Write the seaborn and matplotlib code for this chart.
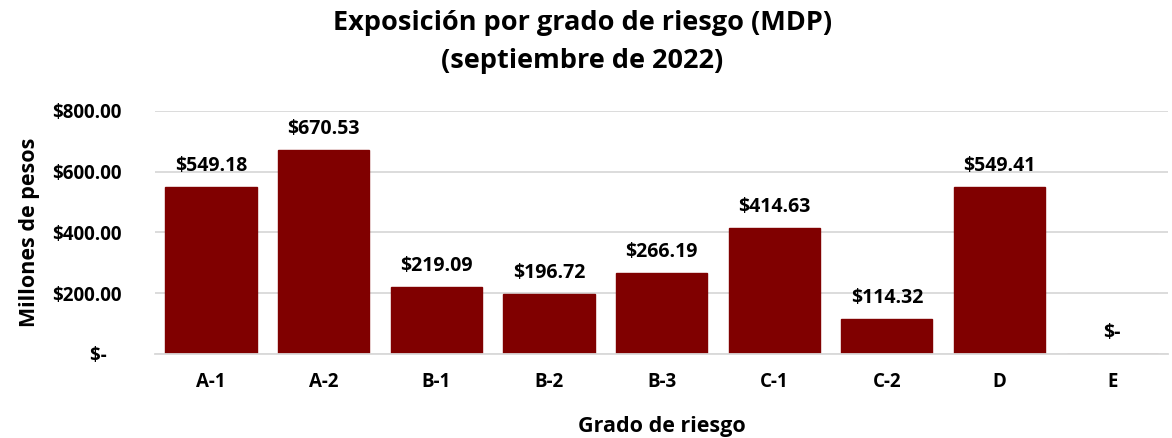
import matplotlib
matplotlib.use("Agg")
import matplotlib.pyplot as plt
import seaborn as sns
import pandas as pd

categories = ["A-1", "A-2", "B-1", "B-2", "B-3", "C-1", "C-2", "D", "E"]
values = [549.18, 670.53, 219.09, 196.72, 266.19, 414.63, 114.32, 549.41, 0.0]
yticks = [0, 200, 400, 600, 800]
ytick_labels = ["$-   ", "$200.00", "$400.00", "$600.00", "$800.00"]

sns.set_theme(style="white")
plt.rcParams['font.family'] = ['Open Sans', 'DejaVu Sans']
plt.rcParams['font.weight'] = 'bold'
plt.rcParams['text.color'] = 'black'
plt.rcParams['axes.labelcolor'] = 'black'
plt.rcParams['xtick.color'] = 'black'
plt.rcParams['ytick.color'] = 'black'

df = pd.DataFrame({"grado": categories, "valor": values})

fig = plt.figure(figsize=(11.72, 4.38), dpi=100)
ax = fig.add_axes([0.132, 0.192, 0.865, 0.555])

sns.barplot(data=df, x="grado", y="valor", color="#800000", saturation=1,
            width=0.81, ax=ax, edgecolor="#800000")

ax.set_ylim(0, 800)
ax.set_yticks(yticks)
ax.set_yticklabels(ytick_labels, fontsize=13.5, fontweight="bold")
ax.yaxis.grid(True, color="#d9d9d9", linewidth=1.3)
ax.set_axisbelow(True)
for s in ["top", "right", "left"]:
    ax.spines[s].set_visible(False)
ax.spines["bottom"].set_color("#d9d9d9")
ax.spines["bottom"].set_linewidth(1.3)
ax.tick_params(axis="both", length=0)
ax.tick_params(axis="x", pad=13)
ax.tick_params(axis="y", pad=24)
for lbl in ax.get_xticklabels():
    lbl.set_fontsize(13.5)
    lbl.set_fontweight("bold")

for i, v in enumerate(values):
    txt = f"${v:,.2f}" if v > 0 else "$-"
    ax.annotate(txt, (i, v), xytext=(0, 8), textcoords="offset points",
                ha="center", va="bottom", fontsize=14, fontweight="bold")

ax.set_xlabel("Grado de riesgo", fontsize=15.5, fontweight="bold", labelpad=17)
ax.set_ylabel("Millones de pesos", fontsize=15.5, fontweight="bold", labelpad=12)
ax.yaxis.set_label_coords(-0.113, 0.5)

fig.suptitle("Exposición por grado de riesgo (MDP)\n(septiembre de 2022)",
             x=0.497, y=0.978, fontsize=19.5, fontweight="bold", linespacing=1.62)

fig.savefig("out.png", dpi=100)
